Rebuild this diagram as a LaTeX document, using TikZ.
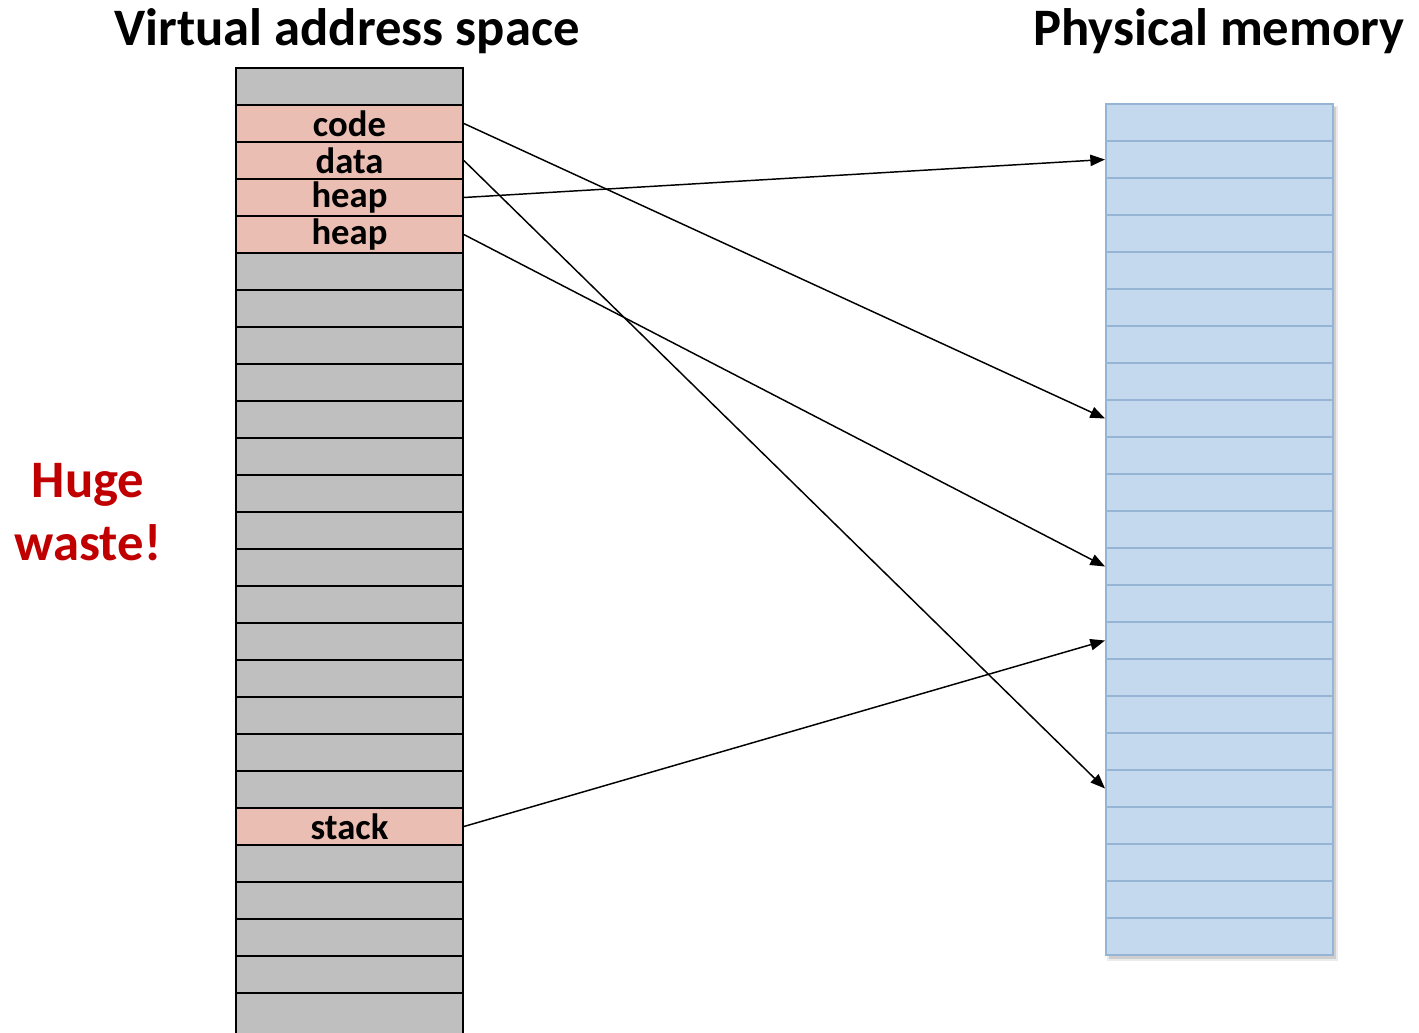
\documentclass[tikz,border=0pt]{standalone}
\usepackage{fontspec}
\setmainfont{Carlito}
\usetikzlibrary{arrows.meta}

\definecolor{slotgray}{RGB}{191,191,191}
\definecolor{slotpink}{RGB}{234,190,179}
\definecolor{slotblue}{RGB}{196,217,238}
\definecolor{blueline}{RGB}{150,180,212}
\definecolor{wastered}{RGB}{192,0,0}

\tikzset{every picture/.style={line width=0.75pt}}
\tikzset{
  vslot/.style={draw=black, line width=1.3pt, fill=slotgray, minimum width=170.25pt, minimum height=27.75pt, inner sep=0pt},
  vused/.style={vslot, fill=slotpink, font=\fontsize{27.5}{30}\selectfont\bfseries},
  pslot/.style={draw=blueline, line width=1.5pt, fill=slotblue, minimum width=170.25pt, minimum height=27.75pt, inner sep=0pt},
  mapsto/.style={-{Triangle[length=11pt,width=8.5pt]}, line width=1.1pt},
  heading/.style={font=\fontsize{39.5}{47}\selectfont\bfseries, anchor=base},
}

\begin{document}
\begin{tikzpicture}[x=0.75pt,y=0.75pt,yscale=-1,xscale=1]
	\useasboundingbox (0,0) rectangle (1419,1032);

	%Virtual address space slots
	\node[vslot] (v0) at (349.5,86.5) {};
	\node[vused] (v1) at (349.5,123.5) {code};
	\node[vused] (v2) at (349.5,160.5) {data};
	\node[vused] (v3) at (349.5,197.5) {heap};
	\node[vused] (v4) at (349.5,234.5) {heap};
	\node[vslot] (v5) at (349.5,271.5) {};
	\node[vslot] (v6) at (349.5,308.5) {};
	\node[vslot] (v7) at (349.5,345.5) {};
	\node[vslot] (v8) at (349.5,382.5) {};
	\node[vslot] (v9) at (349.5,419.5) {};
	\node[vslot] (v10) at (349.5,456.5) {};
	\node[vslot] (v11) at (349.5,493.5) {};
	\node[vslot] (v12) at (349.5,530.5) {};
	\node[vslot] (v13) at (349.5,567.5) {};
	\node[vslot] (v14) at (349.5,604.5) {};
	\node[vslot] (v15) at (349.5,641.5) {};
	\node[vslot] (v16) at (349.5,678.5) {};
	\node[vslot] (v17) at (349.5,715.5) {};
	\node[vslot] (v18) at (349.5,752.5) {};
	\node[vslot] (v19) at (349.5,789.5) {};
	\node[vused] (v20) at (349.5,826.5) {stack};
	\node[vslot] (v21) at (349.5,863.5) {};
	\node[vslot] (v22) at (349.5,900.5) {};
	\node[vslot] (v23) at (349.5,937.5) {};
	\node[vslot] (v24) at (349.5,974.5) {};
	\node[vslot, minimum height=37.5pt] (v25) at (349.5,1018) {};

	%Physical memory shadow
	\fill[black, opacity=0.08] (1107,106) rectangle (1338,961);
	\fill[black, opacity=0.12] (1109,107) rectangle (1336,959);

	%Physical memory frames
	\node[pslot] (p0) at (1219.5,122.5) {};
	\node[pslot] (p1) at (1219.5,159.5) {};
	\node[pslot] (p2) at (1219.5,196.5) {};
	\node[pslot] (p3) at (1219.5,233.5) {};
	\node[pslot] (p4) at (1219.5,270.5) {};
	\node[pslot] (p5) at (1219.5,307.5) {};
	\node[pslot] (p6) at (1219.5,344.5) {};
	\node[pslot] (p7) at (1219.5,381.5) {};
	\node[pslot] (p8) at (1219.5,418.5) {};
	\node[pslot] (p9) at (1219.5,455.5) {};
	\node[pslot] (p10) at (1219.5,492.5) {};
	\node[pslot] (p11) at (1219.5,529.5) {};
	\node[pslot] (p12) at (1219.5,566.5) {};
	\node[pslot] (p13) at (1219.5,603.5) {};
	\node[pslot] (p14) at (1219.5,640.5) {};
	\node[pslot] (p15) at (1219.5,677.5) {};
	\node[pslot] (p16) at (1219.5,714.5) {};
	\node[pslot] (p17) at (1219.5,751.5) {};
	\node[pslot] (p18) at (1219.5,788.5) {};
	\node[pslot] (p19) at (1219.5,825.5) {};
	\node[pslot] (p20) at (1219.5,862.5) {};
	\node[pslot] (p21) at (1219.5,899.5) {};
	\node[pslot] (p22) at (1219.5,936.5) {};

	%Straight Lines
	\draw[mapsto] (v1.east) -- (p8.west);
	%Straight Lines
	\draw[mapsto] (v2.east) -- (p18.west);
	%Straight Lines
	\draw[mapsto] (v3.east) -- (p1.west);
	%Straight Lines
	\draw[mapsto] (v4.east) -- (p12.west);
	%Straight Lines
	\draw[mapsto] (v20.east) -- (p14.west);

	% Text Node
	\node[heading] (vtitle) at (347,45) {Virtual address space};
	% Text Node
	\node[heading] (ptitle) at (1219,45) {Physical memory};
	% Text Node
	\node[font=\fontsize{39.5}{47}\selectfont\bfseries, text=wastered, align=center] (waste) at (88,512) {Huge\\waste!};

\end{tikzpicture}
\end{document}
